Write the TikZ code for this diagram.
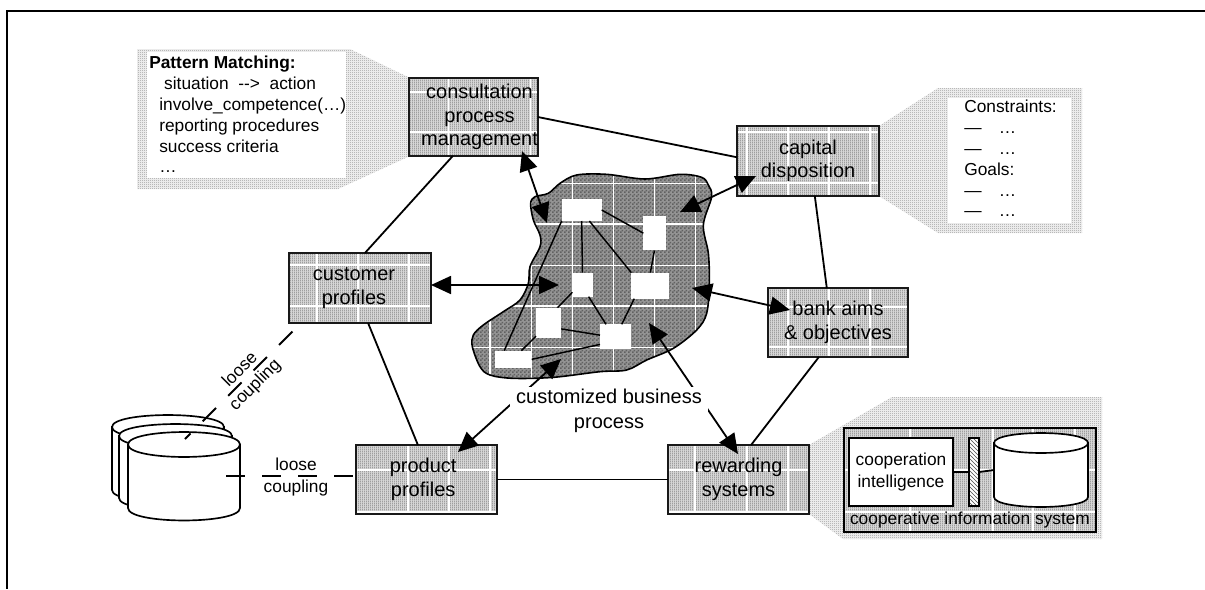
\documentclass[tikz,border=0pt]{standalone}
\usepackage{fontspec}
\setmainfont{Liberation Sans}
\usetikzlibrary{arrows.meta,patterns,calc}
\pgfdeclarepatternformonly{shadowdots}{\pgfqpoint{0pt}{0pt}}{\pgfqpoint{1.5pt}{1.5pt}}{\pgfqpoint{1.5pt}{1.5pt}}{%
  \pgfpathrectangle{\pgfqpoint{0pt}{0pt}}{\pgfqpoint{0.75pt}{0.75pt}}\pgfusepath{fill}}
\pgfdeclarepatternformonly{boxhatch}{\pgfqpoint{0pt}{0pt}}{\pgfqpoint{1.5pt}{1.5pt}}{\pgfqpoint{1.5pt}{1.5pt}}{%
  \pgfpathrectangle{\pgfqpoint{0pt}{0pt}}{\pgfqpoint{0.75pt}{1.5pt}}\pgfusepath{fill}}
\pgfdeclarepatternformonly{blobcheck}{\pgfqpoint{0pt}{0pt}}{\pgfqpoint{3pt}{3pt}}{\pgfqpoint{3pt}{3pt}}{%
  \pgfpathrectangle{\pgfqpoint{0pt}{0pt}}{\pgfqpoint{1.5pt}{1.5pt}}\pgfusepath{fill}
  \pgfpathrectangle{\pgfqpoint{1.5pt}{1.5pt}}{\pgfqpoint{1.5pt}{1.5pt}}\pgfusepath{fill}}
\tikzset{
  bxsize/.style 2 args={minimum width=#1*0.75pt,minimum height=#2*0.75pt},
  gridl/.style={white,line width=0.8pt},
  bxgrid/.style 2 args={path picture={
    \foreach \v in {#1} \draw[gridl] ([xshift=\v*0.75pt]path picture bounding box.north west) -- ([xshift=\v*0.75pt]path picture bounding box.south west);
    \foreach \h in {#2} \draw[gridl] ([yshift=-\h*0.75pt]path picture bounding box.north west) -- ([yshift=-\h*0.75pt]path picture bounding box.north east);
  }},
  hatchfill/.style={preaction={fill=black!16},pattern=boxhatch,pattern color=black!50},
  procbox/.style={draw=black!90,line width=1.4pt,hatchfill,inner sep=0pt,outer sep=0pt,align=center,
    font=\fontsize{15}{17.7}\selectfont},
  shadowfill/.style={preaction={fill=black!8},pattern=shadowdots,pattern color=black!55},
  whitepanel/.style={fill=white,inner sep=0pt,outer sep=0pt},
  panelfont/.style={font=\fontsize{13}{15.6}\selectfont,align=left},
  rsize/.style 2 args={fill=white,inner sep=0pt,outer sep=0pt,minimum width=#1*0.25pt,minimum height=#2*0.25pt},
  link/.style={line width=1.35pt,black},
  thinlink/.style={line width=1.1pt,black},
  bi/.style={line width=1.35pt,black,{Triangle[length=15pt,width=13.5pt]}-{Triangle[length=15pt,width=13.5pt]}},
  loose/.style={line width=1.35pt,black,dash pattern=on 14.2pt off 12.8pt},
  cyl/.style={draw=black,fill=white,line width=1.25pt},
  looselabel/.style={font=\fontsize{13}{16}\selectfont,align=center,inner sep=0pt}
}
\newcommand{\cylinder}[5]{% x1 x2 ytop ybottom ry
  \path[cyl] (#1,#3) -- (#1,#4) .. controls (#1,#4+1.33*#5) and (#2,#4+1.33*#5) .. (#2,#4) -- (#2,#3) -- cycle;
  \path[cyl] (#1,#3) .. controls (#1,#3-1.33*#5) and (#2,#3-1.33*#5) .. (#2,#3) .. controls (#2,#3+1.33*#5) and (#1,#3+1.33*#5) .. cycle;}
\def\blobpath{plot[smooth cycle,tension=0.55] coordinates {(272,130)(285,110)(325,100)(360,70)(410,45)(500,43)(615,57)(720,43)(785,52)(805,75)(815,110)(790,195)(805,280)(808,370)(800,460)(770,510)(700,565)(620,600)(560,630)(480,635)(340,652)(220,655)(150,645)(120,620)(97,560)(100,525)(130,495)(190,455)(240,420)(265,370)(270,320)(300,260)(300,225)(280,180)}}
\begin{document}
\begin{tikzpicture}[x=0.75pt,y=-0.75pt]
\useasboundingbox (0,0) rectangle (1205,589);
% frame
\coordinate (ftr) at (1205,11); \coordinate (ftl) at (7,11); \coordinate (fbl) at (7,589);
\draw[line width=1.6pt,black,line join=miter] (ftr) -- (ftl) -- (fbl);
% callout shadows
\fill[shadowfill] (137,49) -- (350,49) -- (410,78) -- (410,156) -- (338,189) -- (137,189) -- cycle;
\fill[shadowfill] (879,126) -- (938,88) -- (1082,88) -- (1082,233) -- (938,233) -- (879,196) -- cycle;
\fill[shadowfill] (809,445) -- (892,397) -- (1102,397) -- (1102,539) -- (843,539) -- (809,514) -- cycle;
% callout panels
\node[whitepanel,bxsize={199}{126},anchor=north west] (pmp) at (147,52) {};
\node[panelfont,inner sep=0pt,anchor=north west] (pmt) at (149,56)
  {\textbf{Pattern Matching:}\\
   \hspace*{11.2pt}situation\ \ -{}->\ \ action\\
   \hspace*{7.5pt}involve\_competence(…)\\
   \hspace*{7.5pt}reporting procedures\\
   \hspace*{7.5pt}success criteria\\
   \hspace*{7.5pt}…};
\node[whitepanel,bxsize={123}{125},anchor=north west] (cgp) at (948,98) {};
\node[panelfont,inner sep=0pt,anchor=north west] (cgt) at (964,100)
  {Constraints:\\—\hspace{13pt}…\\—\hspace{13pt}…\\Goals:\\—\hspace{13pt}…\\—\hspace{13pt}…};
% blob
\begin{scope}[shift={(440,160)},x=0.25pt,y=-0.25pt]
  \fill[preaction={fill=black!42},pattern=blobcheck,pattern color=black!62] \blobpath;
  \begin{scope}
    \clip \blobpath;
    \foreach \v in {150,275,397,520,643,767} \draw[gridl] (\v,0) -- (\v,700);
    \foreach \h in {70,192,316,438,562} \draw[gridl] (50,\h) -- (850,\h);
  \end{scope}
  \draw[line width=1.2pt,black] \blobpath;
  \node[rsize={120}{66}] (r1) at (425,150) {};
  \node[rsize={67}{103}] (r2) at (643.5,219.5) {};
  \node[rsize={61}{72}] (r3) at (427.5,374) {};
  \node[rsize={114}{78}] (r4) at (631,377) {};
  \node[rsize={76}{92}] (r5) at (326,489) {};
  \node[rsize={93}{73}] (r6) at (526.5,529.5) {};
  \node[rsize={109}{52}] (r7) at (220.5,598) {};
  \draw[thinlink] (r1.east) -- (r2.west);
  \draw[thinlink] (r1.south) -- (r3.north);
  \draw[thinlink] (r1.-55) -- (r4.north west);
  \draw[thinlink] (r1.south west) -- (r7.137);
  \draw[thinlink] (r2.south) -- (r4.north);
  \draw[thinlink] (r3.217) -- (r5.60);
  \draw[thinlink] (r3.-63) -- (r6.128);
  \draw[thinlink] (r4.219) -- (r6.63);
  \draw[thinlink] (r5.-25) -- (r6.175);
  \draw[thinlink] (r5.226) -- (r7.48);
  \draw[thinlink] (r6.207) -- (r7.east);
\end{scope}
% process boxes
\node[procbox,bxsize={127}{78},bxgrid={39,80,121}{14,54}] (consult) at (473.5,117) {\hspace*{9pt}consultation\\\hspace*{9pt}process\\\hspace*{9pt}management};
\node[procbox,bxsize={142}{70},bxgrid={10,51,92,133}{6,57}] (capital) at (808,161) {capital\\disposition};
\node[procbox,bxsize={140}{69},bxgrid={20,61,102}{19,59}] (bank) at (838,322.5) {bank aims\\\&\ objectives};
\node[procbox,bxsize={142}{70},bxgrid={28,69,120}{12,53}] (customer) at (360,288) {\hspace*{-9pt}customer\\\hspace*{-9pt}profiles};
\node[procbox,bxsize={141}{69},bxgrid={52,93,134}{25,67}] (product) at (426.5,479.5) {\hspace*{-5pt}product\\\hspace*{-5pt}profiles};
\node[procbox,bxsize={141}{69},bxgrid={27,79,120}{25,67}] (reward) at (738.5,479.5) {rewarding\\systems};
% connectors between boxes
\draw[link] (consult.east) -- (capital.177);
\draw[link] (consult.242) -- (customer.82);
\draw[link] (capital.-79) -- (bank.108);
\draw[link] (bank.241) -- (reward.70);
\draw[link] (customer.-77) -- (product.104);
\draw[link,yshift=0.5pt] (product.east) -- (reward.west);
% cooperative information system
\node[draw=black,line width=1.4pt,hatchfill,inner sep=0pt,outer sep=0pt,bxsize={252}{104},anchor=north west,
  bxgrid={66,149,189,231}{42,84}] (cis) at (844,428) {};
\node[font=\fontsize{13}{15.6}\selectfont,inner sep=0pt] (cistext) at (970,520) {cooperative information system};
\node[draw=black,fill=white,line width=1.3pt,inner sep=0pt,outer sep=0pt,bxsize={104}{68},anchor=north west,align=center,
  font=\fontsize{13}{17}\selectfont] (ci) at (849,438) {cooperation\\intelligence};
\node[draw=black,line width=1.3pt,inner sep=0pt,outer sep=0pt,bxsize={10}{68},anchor=north west,
  preaction={fill=white},pattern=north west lines,pattern color=black!70] (bar) at (969,438) {};
\cylinder{994}{1088}{443}{497}{10}
\coordinate (cisdb) at (994,470);
\draw[thinlink] (ci.east) -- (bar.west);
\draw[link] (bar.east) -- (cisdb);
% database stack
\cylinder{112}{224}{427}{490}{12}
\cylinder{119}{232}{436}{498}{12}
\cylinder{128}{240}{444.5}{508}{12.5}
% loose couplings
\coordinate (dbh) at (226,476);
\draw[loose] (dbh) -- (product.west |- dbh);
\coordinate (dbd) at (185,439);
\coordinate (cud) at (293,331);
\draw[loose,dash phase=8.25pt] (dbd) -- (cud);
\node[looselabel] (lc1) at (296,477) {loose\\coupling};
\node[looselabel,rotate=45] (lc2) at (248,377.5) {loose\\coupling};
% two-way arrows to the process
\coordinate (a1) at (522,151); \coordinate (a2) at (547,223);
\coordinate (b1) at (756,176); \coordinate (b2) at (680,212);
\coordinate (c1) at (431,285); \coordinate (c2) at (559,285);
\coordinate (d1) at (790,310); \coordinate (d2) at (692,288);
\coordinate (e1) at (738,454); \coordinate (e2) at (649,323);
\coordinate (f1) at (458,452); \coordinate (f2) at (561,359);
\draw[bi] (a1) -- (a2);
\draw[bi] (b1) -- (b2);
\draw[bi] (c1) -- (c2);
\draw[bi] (d1) -- (d2);
\draw[bi] (e1) -- (e2);
\draw[bi] (f1) -- (f2);
\node[fill=white,inner sep=0pt,bxsize={198}{47},align=center,font=\fontsize{15}{18.7}\selectfont] (cbp) at (609,410.5) {customized business\\process};
\end{tikzpicture}
\end{document}
